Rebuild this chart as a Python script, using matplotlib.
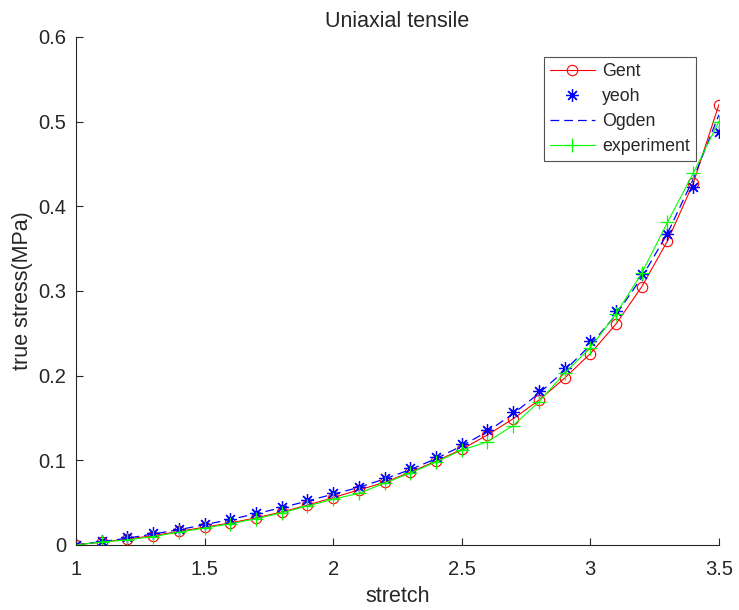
import matplotlib
matplotlib.use("Agg")
import matplotlib.pyplot as plt
import numpy as np

stretch = [1.0, 1.1, 1.2, 1.3, 1.4, 1.5, 1.6, 1.7, 1.8, 1.9, 2.0, 2.1, 2.2,
           2.3, 2.4, 2.5, 2.6, 2.7, 2.8, 2.9, 3.0, 3.1, 3.2, 3.3, 3.4, 3.5]

gent = [0.0, 0.0035, 0.007, 0.011, 0.016, 0.021, 0.026, 0.032, 0.039, 0.047,
        0.056, 0.065, 0.074, 0.086, 0.099, 0.113, 0.130, 0.149, 0.171, 0.197,
        0.226, 0.261, 0.305, 0.359, 0.427, 0.520]

yeoh = [0.0, 0.0045, 0.009, 0.014, 0.019, 0.025, 0.031, 0.038, 0.045, 0.053,
        0.061, 0.069, 0.079, 0.091, 0.104, 0.119, 0.136, 0.157, 0.182, 0.209,
        0.241, 0.276, 0.320, 0.367, 0.423, 0.488]

ogden = [0.0, 0.004, 0.008, 0.013, 0.018, 0.024, 0.030, 0.037, 0.044, 0.052,
         0.060, 0.068, 0.078, 0.089, 0.102, 0.117, 0.134, 0.155, 0.179, 0.206,
         0.236, 0.272, 0.316, 0.368, 0.432, 0.508]

experiment = [0.0, 0.0035, 0.006, 0.010, 0.015, 0.020, 0.025, 0.031, 0.038, 0.046,
              0.054, 0.061, 0.073, 0.085, 0.098, 0.112, 0.122, 0.141, 0.169, 0.203,
              0.233, 0.273, 0.321, 0.381, 0.439, 0.500]

plt.rcParams['font.family'] = ['Liberation Sans', 'DejaVu Sans']
txt = '#262626'

fig = plt.figure(figsize=(7.39, 6.10), dpi=100)
ax = fig.add_axes([0.1028, 0.1066, 0.870, 0.8328])

ax.plot(stretch, gent, color=(1, 0, 0), lw=0.8, marker='o', ms=7.5,
        mfc='none', mec=(1, 0, 0), mew=0.8, label='Gent')
ax.plot(stretch, yeoh, linestyle='none', marker=(8, 2, 0), ms=9,
        mec=(0, 0, 1), mew=0.9, color=(0, 0, 1), label='yeoh')
ax.plot(stretch, ogden, color=(0, 0, 1), lw=0.9, linestyle=(0, (7, 4)),
        label='Ogden')
ax.plot(stretch, experiment, color=(0, 1, 0), lw=0.8, marker='+', ms=10,
        mew=0.9, label='experiment')

ax.set_xlim(1, 3.5)
ax.set_ylim(0, 0.6)
ax.set_xticks([1, 1.5, 2, 2.5, 3, 3.5])
ax.set_xticklabels(['1', '1.5', '2', '2.5', '3', '3.5'])
ax.set_yticks([0, 0.1, 0.2, 0.3, 0.4, 0.5, 0.6])
ax.set_yticklabels(['0', '0.1', '0.2', '0.3', '0.4', '0.5', '0.6'])

for s in ['top', 'right']:
    ax.spines[s].set_visible(False)
for s in ['left', 'bottom']:
    ax.spines[s].set_color(txt)
    ax.spines[s].set_linewidth(0.8)

ax.tick_params(direction='in', length=5, width=0.8, colors=txt,
               labelsize=14.5)
ax.tick_params(axis='x', pad=11)
ax.tick_params(axis='y', pad=7)

ax.set_xlabel('stretch', fontsize=15.5, color=txt, labelpad=5)
ax.set_ylabel('true stress(MPa)', fontsize=15.5, color=txt, labelpad=4)
ax.set_title('Uniaxial tensile', fontsize=15.5, color=txt, pad=7)

leg = ax.legend(loc='upper right', bbox_to_anchor=(0.964, 0.961),
                fontsize=12.8, frameon=True, fancybox=False, borderpad=0.35,
                handlelength=2.5, handletextpad=0.4, labelspacing=0.45,
                borderaxespad=0)
leg.get_frame().set_edgecolor(txt)
leg.get_frame().set_linewidth(0.8)
for t in leg.get_texts():
    t.set_color(txt)

fig.savefig('out.png', dpi=100, facecolor='white')
